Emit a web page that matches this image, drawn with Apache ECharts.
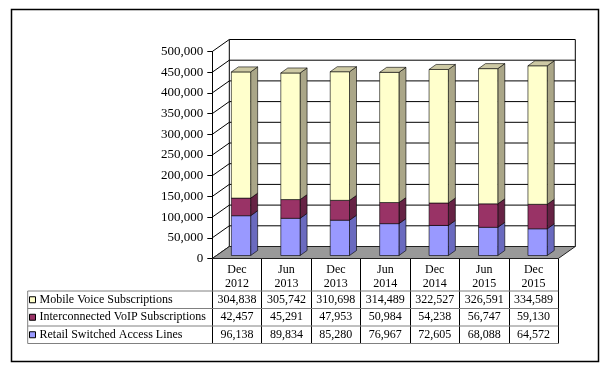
<!DOCTYPE html>
<html><head><meta charset="utf-8">
<script src="https://cdn.jsdelivr.net/npm/echarts@6/dist/echarts.min.js"></script>
<style>html,body{margin:0;padding:0;background:#fff}#c{width:611px;height:373px}</style>
</head><body><div id="c"></div>
<script>
// ---- data ----
const categories = ['Dec\n2012','Jun\n2013','Dec\n2013','Jun\n2014','Dec\n2014','Jun\n2015','Dec\n2015'];
const mobileVoice = [304838,305742,310698,314489,322527,326591,334589];
const voipSubs    = [42457,45291,47953,50984,54238,56747,59130];
const retailLines = [96138,89834,85280,76967,72605,68088,64572];
const seriesNames = ['Mobile Voice Subscriptions','Interconnected VoIP Subscriptions','Retail Switched Access Lines'];
const yTicks = [0,50000,100000,150000,200000,250000,300000,350000,400000,450000,500000];

// ---- style constants ----
const FONT = 'Liberation Serif';
const DX = 17, DY = -12;          // wall depth
const BX = 4, BY = -3;            // bar front offset inside depth
const BDX = 7, BDY = -5;          // bar depth
const BAR_RATIO = 0.39;
const HEADER_H = 32.5, ROW_H = 17.5, TABLE_LEFT = 27.7;
const fmt = v => v.toLocaleString('en-US');

const colors = {
  retail: {front:'#9999ff', side:'#6a6abf', top:'#8080d9'},
  voip:   {front:'#993366', side:'#662244', top:'#7a2952'},
  mobile: {front:'#ffffcc', side:'#aaa688', top:'#cdc9a4'}
};

const baseVoip = retailLines.map(v => v);
const baseMobile = retailLines.map((v,i) => v + voipSubs[i]);

function barRender(col, drawTop) {
  return function (params, api) {
    const i = api.value(0), base = api.value(1), v = api.value(2);
    const p0 = api.coord([i, base]), p1 = api.coord([i, base + v]);
    const bw = api.size([1, 0])[0] * BAR_RATIO;
    const xl = p0[0] + BX - bw / 2, xr = xl + bw;
    const yb = p0[1] + BY, yt = p1[1] + BY;
    const stroke = {stroke:'#000', lineWidth:0.6};
    const children = [
      {type:'polygon', shape:{points:[[xr,yt],[xr+BDX,yt+BDY],[xr+BDX,yb+BDY],[xr,yb]]},
       style:Object.assign({fill:col.side}, stroke)},
      {type:'rect', shape:{x:xl, y:yt, width:bw, height:yb-yt},
       style:Object.assign({fill:col.front}, stroke)}
    ];
    if (drawTop) children.push({type:'polygon',
      shape:{points:[[xl,yt],[xl+BDX,yt+BDY],[xr+BDX,yt+BDY],[xr,yt]]},
      style:Object.assign({fill:col.top}, stroke)});
    return {type:'group', children};
  };
}

const chart = echarts.init(document.getElementById('c'), null, {renderer:'canvas'});
chart.setOption({
  animation:false,
  backgroundColor:'#fff',
  color:[colors.mobile.front, colors.voip.front, colors.retail.front],
  textStyle:{fontFamily:FONT},
  grid:{left:212.3, top:51.5, width:346, height:207},
  legend:{
    data:seriesNames, orient:'vertical', left:29, top:291, padding:0,
    itemWidth:6, itemHeight:6, itemGap:0, selectedMode:false, icon:'rect',
    itemStyle:{borderColor:'#000', borderWidth:1},
    textStyle:{fontFamily:FONT, fontSize:12, color:'#000', lineHeight:17.5, padding:[0,0,0,-1]}
  },
  xAxis:{
    type:'category', data:categories,
    axisLine:{show:true, lineStyle:{color:'#000', width:1}},
    axisTick:{show:true, interval:0, length:85, lineStyle:{color:'#000', width:1}},
    axisLabel:{interval:0, margin:4.5, fontFamily:FONT, fontSize:12, lineHeight:14, color:'#000'},
    splitLine:{show:false}
  },
  yAxis:{
    type:'value', min:0, max:500000, interval:50000,
    axisLine:{show:true, lineStyle:{color:'#000', width:1}},
    axisTick:{show:true, length:5, lineStyle:{color:'#000'}},
    axisLabel:{margin:9, fontFamily:FONT, fontSize:13, color:'#000', formatter:v => fmt(v)},
    splitLine:{show:false}
  },
  series:[
    { // back wall + side wall gridlines
      type:'custom', z:1, silent:true, legendHoverLink:false,
      data:yTicks.map(v => [0, v]), encode:{x:0, y:1},
      renderItem:function (params, api) {
        const cs = params.coordSys;
        const y = api.coord([0, api.value(1)])[1];
        const ls = {stroke:'#000', lineWidth:1};
        return {type:'group', children:[
          {type:'line', shape:{x1:cs.x, y1:y, x2:cs.x+DX, y2:y+DY}, style:ls},
          {type:'line', shape:{x1:cs.x+DX, y1:y+DY, x2:cs.x+cs.width+DX, y2:y+DY}, style:ls}
        ]};
      }
    },
    { // back wall verticals + floor
      type:'custom', z:2, silent:true,
      data:[[0, 0]], encode:{x:0, y:1},
      renderItem:function (params, api) {
        const cs = params.coordSys;
        const yb = cs.y + cs.height, yt = cs.y;
        const ls = {stroke:'#000', lineWidth:1};
        return {type:'group', children:[
          {type:'line', shape:{x1:cs.x+DX, y1:yt+DY, x2:cs.x+DX, y2:yb+DY}, style:ls},
          {type:'line', shape:{x1:cs.x+cs.width+DX, y1:yt+DY, x2:cs.x+cs.width+DX, y2:yb+DY}, style:ls},
          {type:'polygon', shape:{points:[[cs.x,yb],[cs.x+cs.width,yb],[cs.x+cs.width+DX,yb+DY],[cs.x+DX,yb+DY]]},
           style:{fill:'#999999', stroke:'#222', lineWidth:1}}
        ]};
      }
    },
    {
      name:seriesNames[2], type:'custom', z:3, itemStyle:{color:colors.retail.front},
      data:retailLines.map((v,i) => [i, 0, v]), encode:{x:0, y:2},
      renderItem:barRender(colors.retail, false)
    },
    {
      name:seriesNames[1], type:'custom', z:3, itemStyle:{color:colors.voip.front},
      data:voipSubs.map((v,i) => [i, baseVoip[i], v]), encode:{x:0, y:2},
      renderItem:barRender(colors.voip, false)
    },
    {
      name:seriesNames[0], type:'custom', z:3, itemStyle:{color:colors.mobile.front},
      data:mobileVoice.map((v,i) => [i, baseMobile[i], v]), encode:{x:0, y:2},
      renderItem:barRender(colors.mobile, true)
    },
    { // data table frame
      type:'custom', z:4, silent:true,
      data:[[0, 0]], encode:{x:0, y:1},
      renderItem:function (params, api) {
        const cs = params.coordSys;
        const y0 = cs.y + cs.height + HEADER_H;
        const right = cs.x + cs.width;
        const ls = {stroke:'#808080', lineWidth:1};
        const ch = [];
        for (let r = 0; r <= 3; r++) {
          const y = y0 + r * ROW_H;
          ch.push({type:'line', shape:{x1:TABLE_LEFT, y1:y, x2:right, y2:y}, style:ls});
        }
        ch.push({type:'line', shape:{x1:TABLE_LEFT, y1:y0, x2:TABLE_LEFT, y2:y0+3*ROW_H}, style:ls});
        return {type:'group', children:ch};
      }
    },
    { // data table values
      type:'custom', z:4, silent:true,
      data:categories.map((c,i) => [i, mobileVoice[i], voipSubs[i], retailLines[i]]),
      encode:{x:0, y:1},
      renderItem:function (params, api) {
        const cs = params.coordSys;
        const i = api.value(0);
        const x = api.coord([i, 0])[0];
        const y0 = cs.y + cs.height + HEADER_H;
        const ch = [1,2,3].map((d, r) => ({
          type:'text',
          style:{text:fmt(api.value(d)), x:x, y:y0 + ROW_H*(r+0.5),
                 align:'center', verticalAlign:'middle',
                 font:'12px "' + FONT + '"', fill:'#000'}
        }));
        return {type:'group', children:ch};
      }
    }
  ],
  graphic:[{
    type:'rect', left:9, top:7, z:100, silent:true,
    shape:{width:587, height:352},
    style:{fill:null, stroke:'#000', lineWidth:1.5}
  }]
});
</script></body></html>
